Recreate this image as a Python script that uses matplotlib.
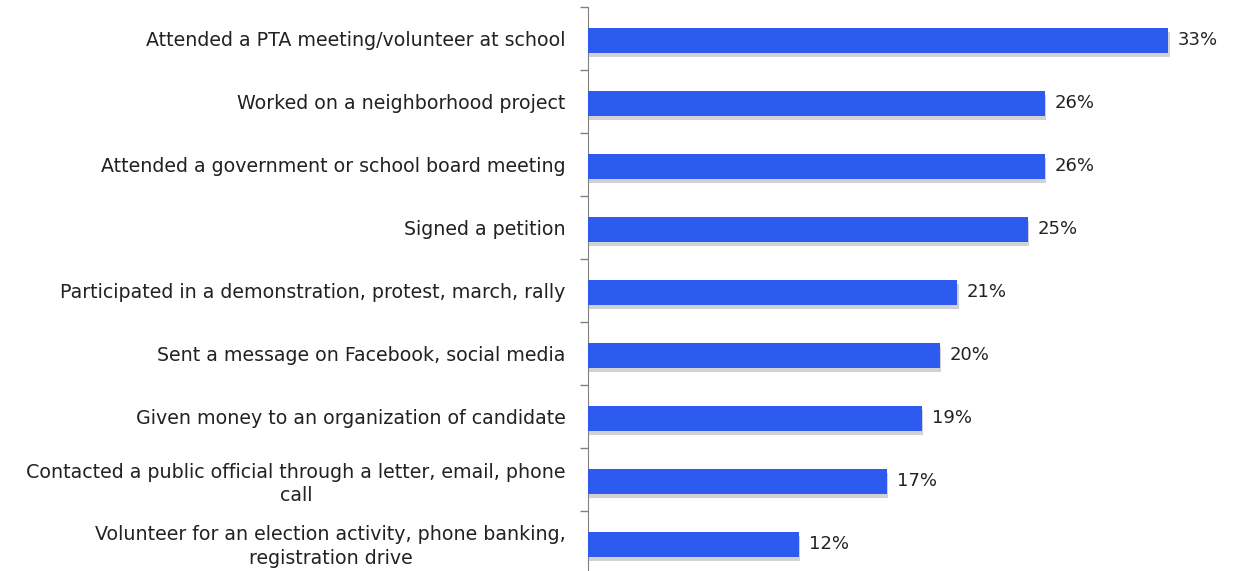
import matplotlib
matplotlib.use('Agg')
import matplotlib.pyplot as plt
import matplotlib.patheffects as pe

categories = [
    'Attended a PTA meeting/volunteer at school',
    'Worked on a neighborhood project',
    'Attended a government or school board meeting',
    'Signed a petition',
    'Participated in a demonstration, protest, march, rally',
    'Sent a message on Facebook, social media',
    'Given money to an organization of candidate',
    'Contacted a public official through a letter, email, phone\ncall',
    'Volunteer for an election activity, phone banking,\nregistration drive',
]
values = [33, 26, 26, 25, 21, 20, 19, 17, 12]
value_labels = ['33%', '26%', '26%', '25%', '21%', '20%', '19%', '17%', '12%']

plt.rcParams['font.family'] = ['DejaVu Sans']

fig = plt.figure(figsize=(12.36, 5.71), dpi=100)
# axes placed so the axis line sits at x=588px, top tick at y=7px
ax = fig.add_axes([588 / 1236, (571 - 574) / 571, 1 - 588 / 1236, 567 / 571])

y = list(range(len(categories)))
bars = ax.barh([i + 0.03 for i in y], values, height=0.4, color='#2D5BEF', zorder=3)
for b in bars:
    b.set_path_effects([pe.SimplePatchShadow(offset=(1, -3), shadow_rgbFace='#909090', alpha=0.4),
                        pe.Normal()])

ax.set_xlim(0, (1236 - 588) / 17.58)
ax.set_ylim(len(categories) - 0.5, -0.5)

# tick marks between categories, labels at centers
ax.set_yticks([i - 0.5 for i in range(len(categories) + 1)])
ax.set_yticklabels([])
ax.tick_params(axis='y', which='major', length=6, color='#808080', width=1)
ax.set_yticks(y, minor=True)
ax.set_yticklabels(categories, minor=True, fontsize=13.7, color='#222222',
                   multialignment='center', linespacing=1.3)
ax.tick_params(axis='y', which='minor', length=0, pad=16)

ax.set_xticks([])
for s in ['top', 'right', 'bottom']:
    ax.spines[s].set_visible(False)
ax.spines['left'].set_color('#808080')

for yi, v, lab in zip(y, values, value_labels):
    ax.text(v + 0.55, yi + 0.03, lab, va='center', ha='left', fontsize=13, color='#222222')

fig.savefig('out.png', dpi=100)
